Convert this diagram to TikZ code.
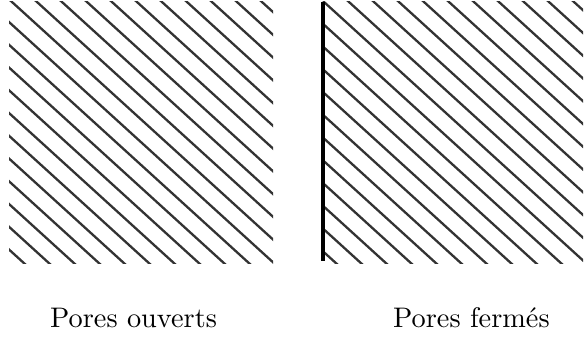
\documentclass[tikz,border=0pt]{standalone}
\font\lmten="[lmroman10-regular]:mapping=tex-text" at 28.3pt
\tikzset{
  hatchline/.style={line width=2.3pt, draw=black!80},
  wallline/.style={line width=3.6pt, draw=black},
  label/.style={anchor=base west, inner sep=0pt, font=\lmten}
}
\begin{document}
\begin{tikzpicture}[x=1pt,y=1pt]
\useasboundingbox (0,0) rectangle (585,340);
% left square: open pores
\begin{scope}
  \clip (9,77) rectangle (273,338);
  \foreach \k in {-12,...,11} {
    \draw[hatchline] ({12+25*\k-30},{338+27.3}) -- ++(330,-300.3);
  }
\end{scope}
% right square: closed pores
\begin{scope}
  \clip (322.7,77) rectangle (583,338);
  \foreach \k in {-12,...,11} {
    \draw[hatchline] ({324+25*\k-30},{338+27.3}) -- ++(330,-300.3);
  }
\end{scope}
\coordinate (wtop) at (322.7,338);
\coordinate (wbot) at (322.7,79);
\draw[wallline] (wtop) -- (wbot);
% labels
\node[label] (lo) at (50,12.5) {Pores ouverts};
\node[label] (lf) at (393,12.5) {Pores fermés};
\end{tikzpicture}
\end{document}
